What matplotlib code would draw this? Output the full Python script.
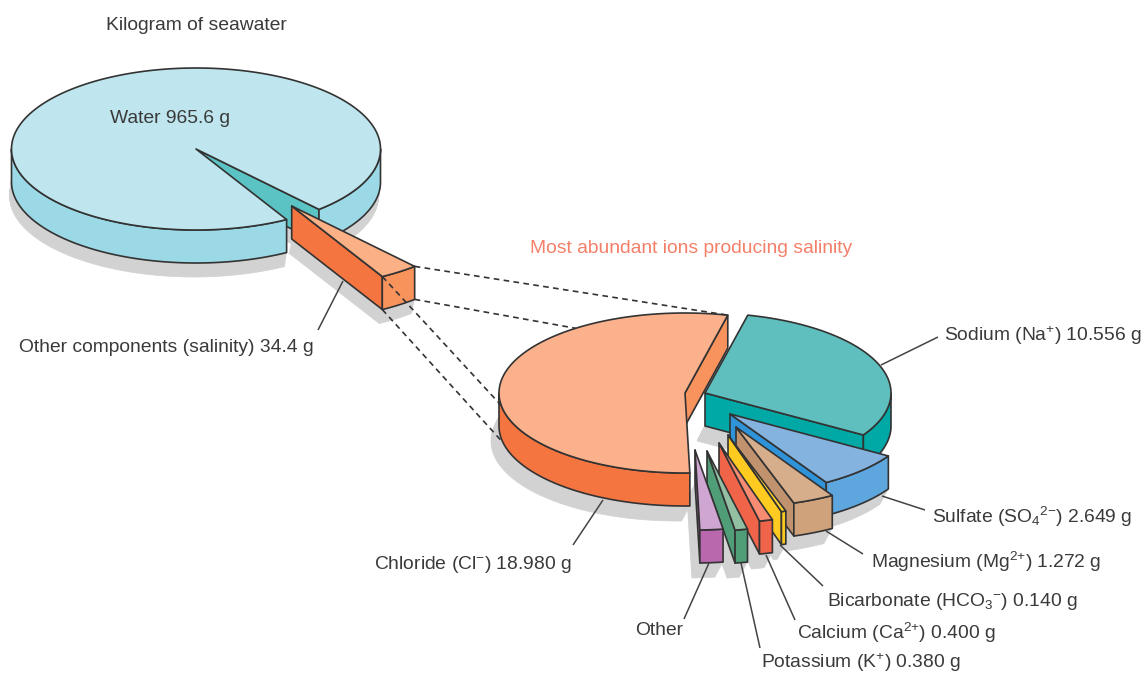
import numpy as np
from matplotlib import pyplot as plt
from matplotlib.patches import Polygon

plt.rcParams['font.family'] = ['Liberation Sans', 'DejaVu Sans']
plt.rcParams['mathtext.fontset'] = 'custom'
plt.rcParams['mathtext.rm'] = 'Liberation Sans'
plt.rcParams['mathtext.default'] = 'regular'

# grams per kilogram of seawater
water_g = 965.6
salinity_g = 34.4

# ions, in drawing order (back to front)
ion_names = ["Sodium", "Sulfate", "Magnesium", "Bicarbonate", "Calcium", "Potassium", "Other", "Chloride"]
ion_g = [10.556, 2.649, 1.272, 0.140, 0.400, 0.380, 0.70, 18.980]

# top, rim and cut face colours
ion_top = ["#5fbfbf", "#85b3e0", "#d6ae8c", "#ffd22e", "#f78c72", "#93c0a3", "#cfa5d2", "#fbb28c"]
ion_rim = ["#00a8a6", "#5ea6de", "#cfa27c", "#f8c81e", "#f0644a", "#4f9e78", "#b968ae", "#f4753f"]
ion_face = ["#00a8a6", "#2e93d9", "#c1926e", "#ffcb20", "#f0644a", "#4f9e78", "#b968ae", "#f8935e"]

# where the point of each pulled out slice sits
ion_apex = [(705, 393), (730, 414), (736, 427), (728, 435), (719, 443), (707, 451), (695, 450), (685, 393)]

line_col = "#333333"
text_col = "#3a3a3a"
shadow_col = "#d2d2d2"
depth = 33


def arc(apex, rx, ry, t0, t1, dy=0):
    t = np.deg2rad(np.linspace(t0, t1, max(int(abs(t1 - t0)) * 2, 2) + 1))
    return np.column_stack([apex[0] + rx * np.cos(t), apex[1] + dy + ry * np.sin(t)])


def shadow(ax, apex, rx, ry, t0, t1, dx, dy):
    # the slice outline swept from the foot of the slice out to the shadow offset
    for f in np.linspace(0, 1, 15):
        p = arc(apex, rx, ry, t0, t1, depth + dy * f)
        p[:, 0] += dx * f
        p = np.vstack([[apex[0] + dx * f, apex[1] + depth + dy * f], p])
        ax.add_patch(Polygon(p, fc=shadow_col, ec=shadow_col, lw=0.5, zorder=1))


def slice3d(ax, apex, rx, ry, t0, t1, top, rim, face, z):
    # cut face on the t1 side
    p0 = arc(apex, rx, ry, t1, t1)[0]
    pts = [apex, p0, (p0[0], p0[1] + depth), (apex[0], apex[1] + depth)]
    ax.add_patch(Polygon(pts, fc=face, ec=line_col, lw=1.2, joinstyle="round", zorder=z))
    # outer wall, only the part that faces the viewer
    for lo, hi in [(0, 180), (360, 540)]:
        a, b = max(t0, lo), min(t1, hi)
        if b > a:
            up = arc(apex, rx, ry, a, b)
            down = arc(apex, rx, ry, a, b, depth)[::-1]
            ax.add_patch(Polygon(np.vstack([up, down]), fc=rim, ec=line_col, lw=1.2,
                                 joinstyle="round", zorder=z))
    p = np.vstack([[apex], arc(apex, rx, ry, t0, t1)])
    ax.add_patch(Polygon(p, fc=top, ec=line_col, lw=1.2, joinstyle="round", zorder=z))


def leader(ax, p, q):
    ax.plot([p[0], q[0]], [p[1], q[1]], color="#444444", lw=1.1, zorder=40, solid_capstyle="butt")


def guide(ax, p, q):
    ax.plot([p[0], q[0]], [p[1], q[1]], color="#333333", lw=1.2, dashes=(3.4, 2.6), zorder=30)


fig = plt.figure(figsize=(11.46, 6.73), dpi=100)
ax = fig.add_axes([0, 0, 1, 1])
ax.set_xlim(0, 1146)
ax.set_ylim(673, 0)
ax.axis("off")

# kilogram of seawater
big_c = (196, 149)
big_rx, big_ry = 184.5, 81
cut_apex = (291.7, 206)
sal_sweep = 360 * salinity_g / (water_g + salinity_g)
sal_start = 48.2 + 360
wat_start = sal_start + sal_sweep - 360

shadow(ax, big_c, big_rx, big_ry, wat_start, sal_start, -2, 14)
shadow(ax, cut_apex, big_rx, big_ry, sal_start, sal_start + sal_sweep, -3, 14)
slice3d(ax, big_c, big_rx, big_ry, wat_start, sal_start, "#bfe6ee", "#9cd9e6", "#5cc3c5", 5)
slice3d(ax, cut_apex, big_rx, big_ry, sal_start, sal_start + sal_sweep, "#fbb086", "#f9935c", "#f4753f", 6)

# ions producing salinity
ion_rx, ion_ry = 186, 80
angle = 283.3
sweep = 360 / sum(ion_g)
spans = []
for g in ion_g:
    spans.append((angle, angle + g * sweep))
    angle += g * sweep

for i, (a, b) in enumerate(spans):
    shadow(ax, ion_apex[i], ion_rx, ion_ry, a, b, -8, 15)
for i, (a, b) in enumerate(spans):
    slice3d(ax, ion_apex[i], ion_rx, ion_ry, a, b, ion_top[i], ion_rim[i], ion_face[i], 10 + i)

# dashed lines from the pulled out slice to the chloride slice
near = arc(cut_apex, big_rx, big_ry, sal_start + sal_sweep, sal_start + sal_sweep)[0]
far = arc(cut_apex, big_rx, big_ry, sal_start, sal_start)[0]
cl = ion_apex[-1]
guide(ax, far, arc(cl, ion_rx, ion_ry, spans[-1][1], spans[-1][1])[0])
guide(ax, (far[0], far[1] + depth), arc(cl, ion_rx, ion_ry, 234, 234)[0])
guide(ax, near, arc(cl, ion_rx, ion_ry, 171, 171)[0])
guide(ax, (near[0], near[1] + depth), arc(cl, ion_rx, ion_ry, 168, 168, depth)[0])

# labels
leader(ax, (343, 281), (318, 330))
leader(ax, (881, 365), (938, 337))
leader(ax, (882, 496), (925, 510))
leader(ax, (826, 531), (863, 554))
leader(ax, (780, 545), (823, 586))
leader(ax, (766, 555), (795, 620))
leader(ax, (741, 563), (760, 648))
leader(ax, (709, 563), (684, 619))
leader(ax, (603, 500), (573, 545))

fs = 13.85
ax.text(106, 30, "Kilogram of seawater", fontsize=fs, color=text_col, zorder=50)
ax.text(110, 123, "Water 965.6 g", fontsize=fs, color=text_col, zorder=50)
ax.text(19, 352, "Other components (salinity) 34.4 g", fontsize=fs, color=text_col, zorder=50)
ax.text(530, 253, "Most abundant ions producing salinity", fontsize=fs, color="#f4806a", zorder=50)
ax.text(944, 341, "Sodium (Na$^{+}$) 10.556 g", fontsize=fs, color=text_col, zorder=50)
ax.text(932, 523, "Sulfate (SO$_{4}{}^{2{-}}$) 2.649 g", fontsize=fs, color=text_col, zorder=50)
ax.text(871, 568, "Magnesium (Mg$^{2{+}}$) 1.272 g", fontsize=fs, color=text_col, zorder=50)
ax.text(827, 606, "Bicarbonate (HCO$_{3}{}^{-}$) 0.140 g", fontsize=fs, color=text_col, zorder=50)
ax.text(797, 639, "Calcium (Ca$^{2{+}}$) 0.400 g", fontsize=fs, color=text_col, zorder=50)
ax.text(761, 668, "Potassium (K$^{+}$) 0.380 g", fontsize=fs, color=text_col, zorder=50)
ax.text(635, 635, "Other", fontsize=fs, color=text_col, zorder=50)
ax.text(374, 569, "Chloride (Cl$^{-}$) 18.980 g", fontsize=fs, color=text_col, zorder=50)

fig.savefig("out.png", dpi=100)
